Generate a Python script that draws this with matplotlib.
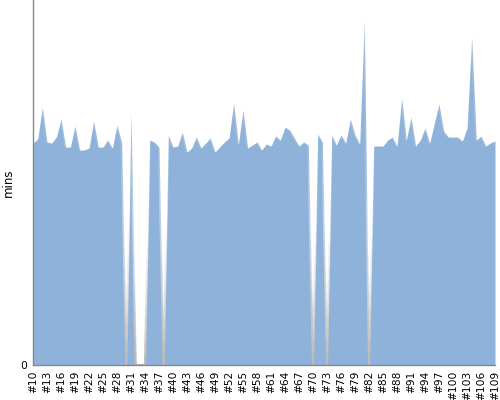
import numpy as np
import matplotlib.pyplot as plt
from matplotlib.collections import LineCollection
from matplotlib.colors import to_rgba

# Data (build #10 .. #109)
builds = list(range(10, 110))
mins = [
    222, 226, 258, 223, 222, 228, 246, 218, 218, 239,   # 10-19
    215, 215, 217, 244, 218, 218, 225, 217, 240, 222,   # 20-29
    0, 253, 0, 0, 0, 225, 223, 218, 0, 230,             # 30-39
    218, 219, 233, 213, 217, 228, 217, 222, 227, 213,   # 40-49
    218, 223, 227, 262, 221, 255, 217, 220, 223, 215,   # 50-59
    221, 219, 229, 225, 238, 235, 227, 219, 223, 220,   # 60-69
    0, 231, 223, 0, 230, 220, 230, 222, 246, 230,       # 70-79
    221, 345, 0, 219, 219, 219, 225, 228, 219, 267,     # 80-89
    225, 248, 219, 225, 237, 222, 242, 261, 234, 228,   # 90-99
    228, 228, 224, 237, 328, 225, 229, 219, 222, 224,   # 100-109
]
labels = ['#%d' % b for b in builds]

fig = plt.figure(figsize=(5, 4), dpi=100)
ax = fig.add_axes([0.066, 0.0875, 0.924, 0.9125])

x = np.arange(len(builds))
y = np.array(mins, dtype=float)
ax.fill_between(x, 0, y, color='#8fb2da', linewidth=0)

# light edge that turns grey near the baseline
xs, ys = [], []
for i in range(len(x) - 1):
    t = np.linspace(0, 1, 20)
    xs.extend(x[i] + t * (x[i + 1] - x[i]))
    ys.extend(y[i] + t * (y[i + 1] - y[i]))
xs, ys = np.array(xs), np.array(ys)
pts = np.column_stack([xs, ys]).reshape(-1, 1, 2)
segs = np.concatenate([pts[:-1], pts[1:]], axis=1)
mid = (ys[:-1] + ys[1:]) / 2
top = np.array(to_rgba('#ffffff'))
bot = np.array(to_rgba('#b8b8b8'))
f = np.clip(mid / 150.0, 0, 1)[:, None]
cols = bot * (1 - f) + top * f
cols[:, 3] = np.clip(1 - mid / 250.0, 0.15, 1)
ax.add_collection(LineCollection(segs, colors=cols, linewidths=1.6))

ax.set_xlim(0, len(builds) - 1)
ax.set_ylim(0, 365)
ax.set_xticks(x[::3])
ax.set_xticklabels(labels[::3], rotation=90, fontsize=7.7)
ax.set_yticks([0])
ax.set_yticklabels(['0'], fontsize=7.7)
ax.tick_params(axis='x', length=0, pad=4)
ax.tick_params(axis='y', length=0, pad=4)
ax.set_ylabel('mins', fontsize=8.5)

for s in ['top', 'right']:
    ax.spines[s].set_visible(False)
for s in ['left', 'bottom']:
    ax.spines[s].set_color('#888888')
    ax.spines[s].set_linewidth(1)

fig.savefig('out.png', dpi=100)
